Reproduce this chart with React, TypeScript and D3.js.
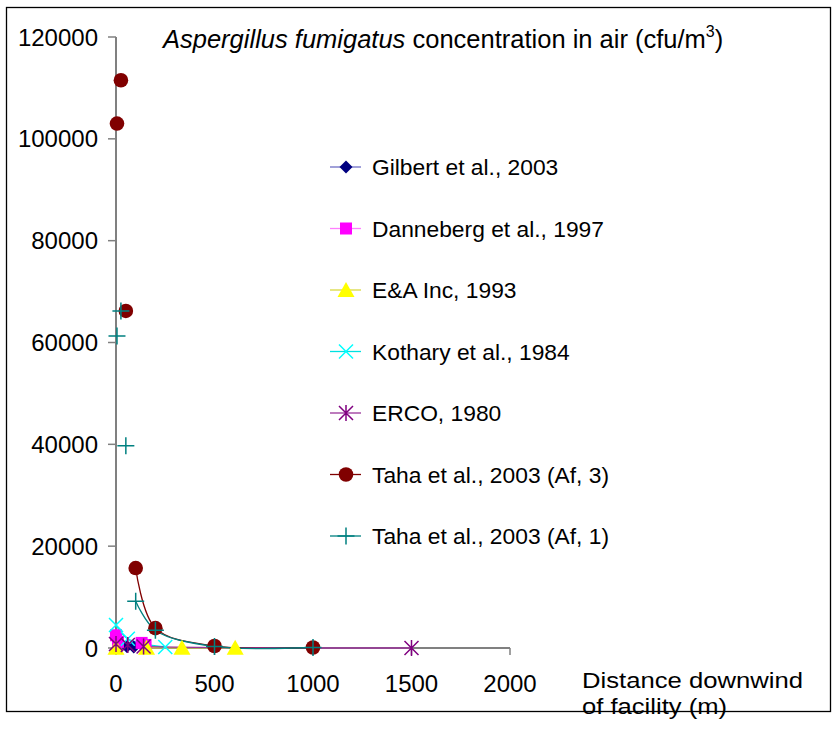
import React from "react";
import * as d3 from "d3";

const xTicks = [0, 500, 1000, 1500, 2000];
const yTicks = [0, 20000, 40000, 60000, 80000, 100000, 120000];

const gilbertX = [55, 90];
const gilbertY = [300, 200];
const dannebergX = [0, 10, 130, 150];
const dannebergY = [2500, 1200, 1000, 600];
const eaX = [0, 155, 335, 605];
const eaY = [50, 50, 50, 50];
const kotharyX = [0, 60, 250];
const kotharyY = [4500, 1800, 200];
const ercoX = [0, 60, 140, 1500];
const ercoY = [800, 600, 300, 0];
const taha3X = [5, 25, 50, 100, 200, 500, 1000];
const taha3Y = [103000, 111500, 66200, 15700, 3900, 400, 100];
const taha1X = [5, 25, 50, 100, 200, 500, 1000];
const taha1Y = [61300, 66200, 39700, 9200, 3500, 300, 100];

const seriesNames = [
  "Gilbert et al., 2003",
  "Danneberg et al., 1997",
  "E&A Inc, 1993",
  "Kothary et al., 1984",
  "ERCO, 1980",
  "Taha et al., 2003 (Af, 3)",
  "Taha et al., 2003 (Af, 1)",
];

type Kind = "diamond" | "square" | "triangle" | "x" | "star" | "circle" | "plus";

const seriesDefs: { xs: number[]; ys: number[]; kind: Kind; color: string; lineColor: string; lineFrom: number }[] = [
  { xs: gilbertX, ys: gilbertY, kind: "diamond", color: "#000080", lineColor: "#6f6fc4", lineFrom: 0 },
  { xs: dannebergX, ys: dannebergY, kind: "square", color: "#FF00FF", lineColor: "#ff7fff", lineFrom: 0 },
  { xs: eaX, ys: eaY, kind: "triangle", color: "#FFFF00", lineColor: "#d8d840", lineFrom: 0 },
  { xs: kotharyX, ys: kotharyY, kind: "x", color: "#00FFFF", lineColor: "#00e0e0", lineFrom: 0 },
  { xs: ercoX, ys: ercoY, kind: "star", color: "#800080", lineColor: "#993399", lineFrom: 0 },
  { xs: taha3X, ys: taha3Y, kind: "circle", color: "#800000", lineColor: "#800000", lineFrom: 3 },
  { xs: taha1X, ys: taha1Y, kind: "plus", color: "#008080", lineColor: "#008080", lineFrom: 3 },
];

function Marker({ kind, color, cx, cy }: { kind: Kind; color: string; cx: number; cy: number }) {
  switch (kind) {
    case "diamond":
      return <path d={`M${cx},${cy - 6.5}L${cx + 6.5},${cy}L${cx},${cy + 6.5}L${cx - 6.5},${cy}Z`} fill={color} />;
    case "square":
      return <rect x={cx - 6} y={cy - 6} width={12} height={12} fill={color} />;
    case "triangle":
      return <path d={`M${cx},${cy - 8}L${cx + 8.5},${cy + 7}L${cx - 8.5},${cy + 7}Z`} fill={color} />;
    case "x":
      return (
        <path d={`M${cx - 7},${cy - 7}L${cx + 7},${cy + 7}M${cx - 7},${cy + 7}L${cx + 7},${cy - 7}`} stroke={color} strokeWidth={1.5} />
      );
    case "star":
      return (
        <path
          d={`M${cx - 7},${cy - 7}L${cx + 7},${cy + 7}M${cx - 7},${cy + 7}L${cx + 7},${cy - 7}M${cx},${cy - 8}L${cx},${cy + 8}`}
          stroke={color}
          strokeWidth={1.5}
        />
      );
    case "circle":
      return <circle cx={cx} cy={cy} r={7.3} fill={color} />;
    case "plus":
      return <path d={`M${cx - 8.5},${cy}L${cx + 8.5},${cy}M${cx},${cy - 8.5}L${cx},${cy + 8.5}`} stroke={color} strokeWidth={1.5} />;
  }
}

export default function App() {
  const W = 838;
  const H = 729;
  const x = d3.scaleLinear().domain([0, 2000]).range([116, 510]);
  const y = d3.scaleLinear().domain([0, 120000]).range([648, 37]);
  const line = d3
    .line<[number, number]>()
    .x((d) => x(d[0]))
    .y((d) => y(d[1]))
    .curve(d3.curveCatmullRom.alpha(0.5));
  const font = "Arial, 'Liberation Sans', sans-serif";
  const legendY0 = 167;
  const legendStep = 61.5;

  return (
    <svg width={W} height={H} style={{ position: "absolute", left: 0, top: 0 }} fontFamily={font}>
      <rect x={0} y={0} width={W} height={H} fill="#fff" />
      {/* axes */}
      <line x1={x(0)} x2={x(0)} y1={y(120000)} y2={y(0)} stroke="#808080" strokeWidth={2} />
      <line x1={x(0)} x2={x(2000)} y1={y(0)} y2={y(0)} stroke="#808080" strokeWidth={2} />
      {yTicks.map((t) => (
        <g key={"y" + t}>
          <line x1={x(0) - 8} x2={x(0)} y1={y(t)} y2={y(t)} stroke="#808080" strokeWidth={1.5} />
          <text x={98} y={y(t) + 8.5} textAnchor="end" fontSize={24}>
            {t}
          </text>
        </g>
      ))}
      {xTicks.map((t) => (
        <g key={"x" + t}>
          <line x1={x(t)} x2={x(t)} y1={y(0)} y2={y(0) + 7} stroke="#808080" strokeWidth={1.5} />
          <text x={x(t)} y={692} textAnchor="middle" fontSize={24}>
            {t}
          </text>
        </g>
      ))}
      {/* series lines */}
      {seriesDefs.map((s, i) => {
        const pts: [number, number][] = s.xs.map((v, j) => [v, s.ys[j]] as [number, number]).slice(s.lineFrom);
        return <path key={"l" + i} d={line(pts) || ""} fill="none" stroke={s.lineColor} strokeWidth={1.3} />;
      })}
      {/* markers */}
      {seriesDefs.map((s, i) => (
        <g key={"m" + i}>
          {s.xs.map((v, j) => (
            <Marker key={j} kind={s.kind} color={s.color} cx={x(v)} cy={y(s.ys[j])} />
          ))}
        </g>
      ))}
      {/* title */}
      <text x={163} y={48} fontSize={25.5}>
        <tspan fontStyle="italic">Aspergillus fumigatus</tspan>
        <tspan> concentration in air (cfu/m</tspan>
        <tspan fontSize={16} dy={-11}>
          3
        </tspan>
        <tspan dy={11}>)</tspan>
      </text>
      {/* legend */}
      {seriesDefs.map((s, i) => {
        const ly = legendY0 + i * legendStep;
        return (
          <g key={"lg" + i}>
            <line x1={330} x2={361} y1={ly} y2={ly} stroke={s.lineColor} strokeWidth={1.3} />
            <Marker kind={s.kind} color={s.color} cx={346} cy={ly} />
            <text x={372} y={ly + 8} fontSize={22.8}>
              {seriesNames[i]}
            </text>
          </g>
        );
      })}
      {/* x axis title */}
      <text x={582} y={688} fontSize={22} textLength={221} lengthAdjust="spacingAndGlyphs">
        Distance downwind
      </text>
      <text x={582} y={714} fontSize={22} textLength={145} lengthAdjust="spacingAndGlyphs">
        of facility (m)
      </text>
      <rect x={6.5} y={7.5} width={824} height={704} fill="none" stroke="#000" strokeWidth={1.3} />
    </svg>
  );
}
